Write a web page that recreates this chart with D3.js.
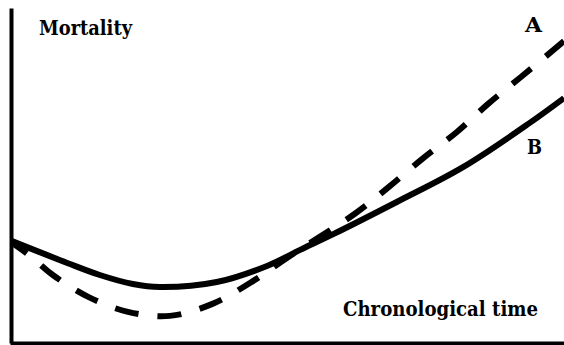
<!DOCTYPE html>
<html>
<head>
<meta charset="utf-8">
<script src="https://cdn.jsdelivr.net/npm/d3@7"></script>
<style>
  body { margin: 0; background: #fff; }
  svg text { font-family: "DejaVu Serif", "Liberation Serif", serif; font-weight: bold; fill: #000; }
</style>
</head>
<body>
<div id="chart"></div>
<script>
// time and mortality (arbitrary units 0-100)
var timeA      = [0, 3.3, 7.4, 13.9, 21.0, 28.6, 36.2, 43.1, 49.8, 62.3, 68.5, 74.5, 80.6, 86.2, 92.2, 100];
var mortalityA = [29.9, 26.0, 20.3, 13.7, 9.3, 8.1, 11.6, 17.9, 25.4, 38.8, 46.9, 55.2, 63.0, 71.3, 79.4, 90.1];
var timeB      = [0, 10.0, 15.9, 21.9, 26.8, 37.1, 46.2, 52.2, 58.2, 69.7, 81.7, 93.8, 100];
var mortalityB = [30.4, 23.9, 20.3, 17.6, 16.7, 18.2, 23.0, 27.8, 32.5, 42.1, 52.5, 65.7, 73.1];
var seriesNames = ["A", "B"];

function drawChart(selector){
    var width = 564, height = 345;
    var svg = d3.select(selector)
        .append("svg")
        .attr("width", width)
        .attr("height", height);

    var x = d3.scaleLinear().domain([0, 100]).range([12, 564]);
    var y = d3.scaleLinear().domain([0, 100]).range([343, 8]);

    var line = d3.line()
        .x(function(d){ return x(d[0]); })
        .y(function(d){ return y(d[1]); })
        .curve(d3.curveCatmullRom);

    var dataA = d3.zip(timeA, mortalityA);
    var dataB = d3.zip(timeB, mortalityB);

    // axes without ticks, just the lines
    svg.append("g")
        .attr("transform", "translate(11,0)")
        .call(d3.axisLeft(y).tickValues([]).tickSizeOuter(0))
        .select(".domain")
        .attr("stroke", "#000")
        .attr("stroke-width", 4);
    svg.append("g")
        .attr("transform", "translate(0,343)")
        .call(d3.axisBottom(x).tickValues([]).tickSizeOuter(0))
        .select(".domain")
        .attr("stroke", "#000")
        .attr("stroke-width", 4)
        .attr("stroke-linecap", "square");

    svg.append("path")
        .datum(dataB)
        .attr("d", line)
        .attr("fill", "none")
        .attr("stroke", "#000")
        .attr("stroke-width", 6);

    svg.append("path")
        .datum(dataA)
        .attr("d", line)
        .attr("fill", "none")
        .attr("stroke", "#000")
        .attr("stroke-width", 6)
        .attr("stroke-dasharray", "24,19")
        .attr("stroke-dashoffset", 6);

    function label(txt, xp, yp, len, size){
        svg.append("text")
            .attr("x", xp).attr("y", yp)
            .attr("font-size", size)
            .attr("textLength", len)
            .attr("lengthAdjust", "spacingAndGlyphs")
            .text(txt);
    }
    label("Mortality", 39, 35, 93, 21);
    label("Chronological time", 343, 316, 195, 20);
    label(seriesNames[0], 525, 32, 17, 21);
    label(seriesNames[1], 527, 154, 15, 21);
}

drawChart("#chart");
</script>
</body>
</html>
